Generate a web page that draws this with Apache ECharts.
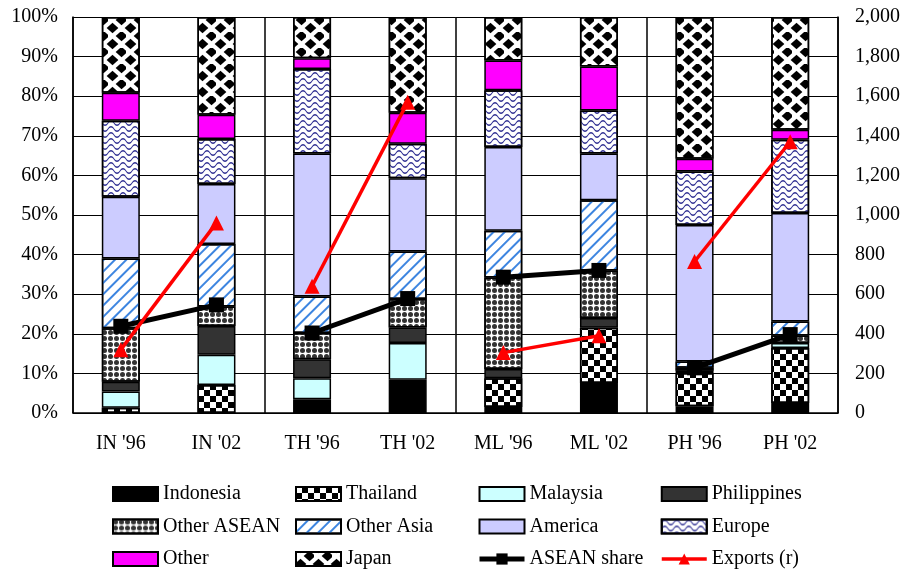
<!DOCTYPE html>
<html><head><meta charset="utf-8">
<script src="https://cdn.jsdelivr.net/npm/echarts@6/dist/echarts.min.js"></script>
<style>html,body{margin:0;padding:0;background:#fff}#c{width:905px;height:572px}</style>
</head><body><div id="c"></div>
<script>
var categories = ["IN '96", "IN '02", "TH '96", "TH '02", "ML '96", "ML '02", "PH '96", "PH '02"];
var indonesia   = [0, 0, 3.5, 8.4, 1.5, 7.6, 1.7, 2.5];
var thailand    = [1.3, 7.1, 0, 0, 7.3, 13.9, 8.4, 13.9];
var malaysia    = [4.1, 7.6, 5.3, 9.3, 0, 0, 0.6, 1.3];
var philippines = [2.5, 7.3, 4.8, 3.9, 2.3, 2.5, 0, 0];
var otherAsean  = [13.5, 4.9, 6.6, 7.2, 23.1, 12.0, 0.7, 1.9];
var otherAsia   = [17.6, 15.8, 9.2, 12.0, 11.8, 17.7, 1.6, 3.5];
var america     = [15.6, 15.1, 36.1, 18.5, 21.2, 11.8, 34.5, 27.4];
var europe      = [19.2, 11.4, 21.4, 8.7, 14.3, 10.9, 13.5, 18.5];
var other       = [7.1, 6.1, 2.7, 7.8, 7.5, 11.1, 3.2, 2.5];
var japan       = [19.1, 24.7, 10.4, 24.2, 11.0, 12.5, 35.8, 28.5];
var aseanShare  = [21.9, 27.3, 20.2, 28.9, 34.3, 36.0, 11.4, 19.8];
var exportsR    = [320, 960, 640, 1570, 305, 390, 765, 1370];
var leftTicks = [0, 10, 100];   // min, interval, max (%)
var rightTicks = [0, 200, 2000];

var FONT = 'Liberation Serif';
var chart = echarts.init(document.getElementById('c'), null, {renderer: 'canvas'});

var barDefs = [
  {name: 'Indonesia', data: indonesia, color: '#000000'},
  {name: 'Thailand', data: thailand, color: '#ffffff',
    decal: {symbol: 'rect', symbolSize: 1, color: '#000', dashArrayX: [[6, 6], [0, 6, 6, 0]], dashArrayY: [6, 0]}},
  {name: 'Malaysia', data: malaysia, color: '#ccffff'},
  {name: 'Philippines', data: philippines, color: '#333333'},
  {name: 'Other ASEAN', data: otherAsean, color: '#ffffff',
    decal: {symbol: 'circle', symbolSize: 1, color: '#333', dashArrayX: [5, 1], dashArrayY: [5, 1]}},
  {name: 'Other Asia', data: otherAsia, color: '#ffffff',
    decal: {symbol: 'rect', symbolSize: 1, color: '#3d85e0', dashArrayX: [1, 0], dashArrayY: [1.2, 6], rotation: -Math.PI / 4}},
  {name: 'America', data: america, color: '#ccccff'},
  {name: 'Europe', data: europe, color: '#ffffff',
    decal: {symbol: 'path://M0,5 C2,1 4,1 6,5 C8,9 10,9 12,5 L12,7 C10,11 8,11 6,7 C4,3 2,3 0,7 Z',
      symbolSize: 1, symbolKeepAspect: false, color: '#2a2a90', dashArrayX: [12, 0], dashArrayY: [6, 0]}},
  {name: 'Other', data: other, color: '#ff00ff'},
  {name: 'Japan', data: japan, color: '#ffffff',
    decal: {symbol: 'diamond', symbolSize: 1.3, color: '#000', dashArrayX: [[9, 9], [0, 9, 9, 0]], dashArrayY: [8, 0]}}
];

var series = barDefs.map(function (d) {
  var s = {
    name: d.name, type: 'bar', stack: 'share', barWidth: 38, xAxisIndex: 0, yAxisIndex: 0,
    data: d.data.map(function (v) { return v === 0 ? '-' : v; }),
    itemStyle: {color: d.color, borderColor: '#000', borderWidth: 1.5},
    emphasis: {disabled: true}
  };
  if (d.decal) s.itemStyle.decal = d.decal;
  return s;
});

function pairData(arr, p) {
  return arr.map(function (v, i) { return Math.floor(i / 2) === p ? v : '-'; });
}
for (var p = 0; p < 4; p++) {
  series.push({
    name: 'ASEAN share', type: 'line', xAxisIndex: 0, yAxisIndex: 0, data: pairData(aseanShare, p),
    symbol: 'rect', symbolSize: 15, z: 5, lineStyle: {color: '#000', width: 5}, itemStyle: {color: '#000'},
    emphasis: {disabled: true}
  });
}
for (var q = 0; q < 4; q++) {
  series.push({
    name: 'Exports (r)', type: 'line', xAxisIndex: 0, yAxisIndex: 1, data: pairData(exportsR, q),
    symbol: 'triangle', symbolSize: 15, z: 6, lineStyle: {color: '#ff0000', width: 3.5}, itemStyle: {color: '#ff0000'},
    emphasis: {disabled: true}
  });
}

var legendCols = [
  ['Indonesia', 'Other ASEAN', 'Other'],
  ['Thailand', 'Other Asia', 'Japan'],
  ['Malaysia', 'America', 'ASEAN share'],
  ['Philippines', 'Europe', 'Exports (r)']
];
var legendX = [112, 295, 477, 660];
var legends = legendCols.map(function (names, i) {
  return {
    orient: 'vertical', left: legendX[i], top: 484, itemWidth: 45, itemHeight: 14, itemGap: 12.5,
    selectedMode: false, padding: 0,
    data: names.map(function (n) {
      if (n === 'ASEAN share') return {name: n, lineStyle: {width: 5, color: '#000'}};
      if (n === 'Exports (r)') return {name: n, lineStyle: {width: 3.5, color: '#ff0000'}};
      return {name: n, icon: 'rect'};
    }),
    textStyle: {fontFamily: FONT, fontSize: 20, color: '#000', lineHeight: 18}
  };
});

chart.setOption({
  animation: false,
  backgroundColor: '#fff',
  textStyle: {fontFamily: FONT},
  legend: legends,
  grid: {left: 73, right: 67, top: 17, bottom: 159, containLabel: false},
  xAxis: [
    {type: 'category', data: categories, boundaryGap: true,
      axisLine: {lineStyle: {color: '#000', width: 1.5}},
      axisTick: {inside: true, length: 5, lineStyle: {color: '#000'}},
      axisLabel: {fontFamily: FONT, fontSize: 20, color: '#000', margin: 21},
      splitLine: {show: false}},
    {type: 'value', min: 0, max: 8, interval: 2, position: 'bottom',
      axisLine: {show: false}, axisTick: {show: false}, axisLabel: {show: false},
      splitLine: {show: true, lineStyle: {color: '#000', width: 1.5}}}
  ],
  yAxis: [
    {type: 'value', min: leftTicks[0], interval: leftTicks[1], max: leftTicks[2],
      axisLine: {show: true, lineStyle: {color: '#000', width: 1.5}},
      axisTick: {show: false},
      axisLabel: {fontFamily: FONT, fontSize: 20, color: '#000', margin: 15, formatter: '{value}%'},
      splitLine: {show: true, lineStyle: {color: '#000', width: 1}}},
    {type: 'value', min: rightTicks[0], interval: rightTicks[1], max: rightTicks[2], position: 'right',
      axisLine: {show: true, lineStyle: {color: '#000', width: 1.5}},
      axisTick: {show: false},
      axisLabel: {fontFamily: FONT, fontSize: 20, color: '#000', margin: 17,
        formatter: function (v) { return v.toLocaleString('en-US'); }},
      splitLine: {show: false}}
  ],
  series: series
});
</script></body></html>
